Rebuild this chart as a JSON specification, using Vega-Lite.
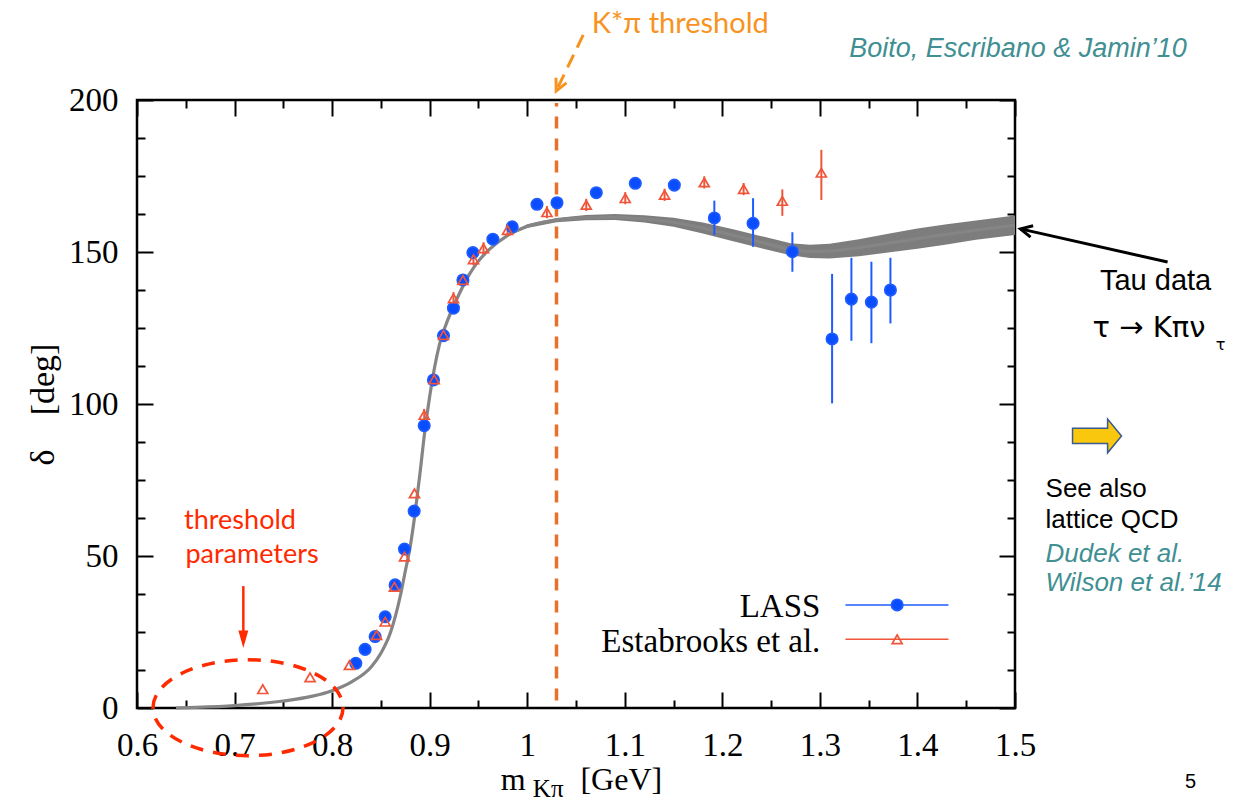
{
  "$schema": "https://vega.github.io/schema/vega-lite/v6.json",
  "width": 878,
  "height": 608,
  "autosize": {"type": "none"},
  "padding": {"left": 137, "top": 100, "right": 224, "bottom": 93},
  "background": "white",
  "config": {
    "view": {"stroke": "black", "strokeWidth": 2.5},
    "font": "Liberation Serif"
  },
  "datasets": {
    "theory": [
      {"m": 0.64, "delta": 0, "lo": 0, "hi": 0},
      {"m": 0.66, "delta": 0.2, "lo": 0.2, "hi": 0.2},
      {"m": 0.70, "delta": 0.8, "lo": 0.8, "hi": 0.8},
      {"m": 0.75, "delta": 2.3, "lo": 2.3, "hi": 2.3},
      {"m": 0.78, "delta": 3.9, "lo": 3.9, "hi": 3.9},
      {"m": 0.80, "delta": 5.7, "lo": 5.7, "hi": 5.7},
      {"m": 0.82, "delta": 8.6, "lo": 8.6, "hi": 8.6},
      {"m": 0.84, "delta": 13.5, "lo": 13.5, "hi": 13.5},
      {"m": 0.85, "delta": 18, "lo": 18, "hi": 18},
      {"m": 0.86, "delta": 25, "lo": 25, "hi": 25},
      {"m": 0.87, "delta": 37, "lo": 37, "hi": 37},
      {"m": 0.875, "delta": 45, "lo": 45, "hi": 45},
      {"m": 0.88, "delta": 53, "lo": 53, "hi": 53},
      {"m": 0.885, "delta": 64, "lo": 64, "hi": 64},
      {"m": 0.89, "delta": 77, "lo": 77, "hi": 77},
      {"m": 0.895, "delta": 91, "lo": 91, "hi": 91},
      {"m": 0.90, "delta": 102.5, "lo": 102.5, "hi": 102.5},
      {"m": 0.905, "delta": 112, "lo": 112, "hi": 112},
      {"m": 0.91, "delta": 119.5, "lo": 119.5, "hi": 119.5},
      {"m": 0.92, "delta": 128.8, "lo": 128.8, "hi": 128.8},
      {"m": 0.93, "delta": 136, "lo": 136, "hi": 136},
      {"m": 0.94, "delta": 142.3, "lo": 142.3, "hi": 142.3},
      {"m": 0.95, "delta": 147, "lo": 147, "hi": 147},
      {"m": 0.96, "delta": 150.5, "lo": 150.5, "hi": 150.5},
      {"m": 0.98, "delta": 155.5, "lo": 155.2, "hi": 155.8},
      {"m": 1.00, "delta": 158.5, "lo": 157.9, "hi": 159.1},
      {"m": 1.03, "delta": 160.5, "lo": 159.8, "hi": 161.2},
      {"m": 1.06, "delta": 161.3, "lo": 160.45, "hi": 162.15},
      {"m": 1.09, "delta": 161.5, "lo": 160.5, "hi": 162.5},
      {"m": 1.12, "delta": 160.9, "lo": 159.7, "hi": 162.1},
      {"m": 1.15, "delta": 159.8, "lo": 158.3, "hi": 161.3},
      {"m": 1.18, "delta": 157.9, "lo": 156.1, "hi": 159.7},
      {"m": 1.21, "delta": 155.6, "lo": 153.6, "hi": 157.6},
      {"m": 1.24, "delta": 153.2, "lo": 151.2, "hi": 155.2},
      {"m": 1.27, "delta": 150.9, "lo": 148.9, "hi": 152.9},
      {"m": 1.29, "delta": 150.2, "lo": 148.0, "hi": 152.4},
      {"m": 1.31, "delta": 150.3, "lo": 147.9, "hi": 152.7},
      {"m": 1.34, "delta": 151.4, "lo": 148.6, "hi": 154.2},
      {"m": 1.37, "delta": 152.9, "lo": 149.8, "hi": 156.0},
      {"m": 1.40, "delta": 154.4, "lo": 151.1, "hi": 157.7},
      {"m": 1.43, "delta": 155.8, "lo": 152.5, "hi": 159.1},
      {"m": 1.46, "delta": 157.2, "lo": 154.0, "hi": 160.4},
      {"m": 1.50, "delta": 158.8, "lo": 155.6, "hi": 162.0}
    ],
    "measurements": [
      {"series": "LASS", "m": 0.8243, "delta": 14.7},
      {"series": "LASS", "m": 0.8338, "delta": 19.3},
      {"series": "LASS", "m": 0.8441, "delta": 23.5},
      {"series": "LASS", "m": 0.8544, "delta": 30.0},
      {"series": "LASS", "m": 0.8646, "delta": 40.5},
      {"series": "LASS", "m": 0.8742, "delta": 52.3},
      {"series": "LASS", "m": 0.8841, "delta": 64.8},
      {"series": "LASS", "m": 0.8944, "delta": 92.9},
      {"series": "LASS", "m": 0.9039, "delta": 107.9},
      {"series": "LASS", "m": 0.9142, "delta": 122.5},
      {"series": "LASS", "m": 0.9244, "delta": 131.5},
      {"series": "LASS", "m": 0.9341, "delta": 140.8},
      {"series": "LASS", "m": 0.9443, "delta": 149.8},
      {"series": "LASS", "m": 0.9648, "delta": 154.2},
      {"series": "LASS", "m": 0.9846, "delta": 158.3},
      {"series": "LASS", "m": 1.0100, "delta": 165.7},
      {"series": "LASS", "m": 1.0305, "delta": 166.2},
      {"series": "LASS", "m": 1.0708, "delta": 169.5},
      {"series": "LASS", "m": 1.1108, "delta": 172.6},
      {"series": "LASS", "m": 1.1508, "delta": 172.0},
      {"series": "LASS", "m": 1.1918, "delta": 161.2, "lo": 155.6, "hi": 166.9},
      {"series": "LASS", "m": 1.2315, "delta": 159.4, "lo": 151.7, "hi": 167.7},
      {"series": "LASS", "m": 1.2718, "delta": 150.1, "lo": 143.5, "hi": 156.5},
      {"series": "LASS", "m": 1.3125, "delta": 121.4, "lo": 100.2, "hi": 142.8},
      {"series": "LASS", "m": 1.3323, "delta": 134.5, "lo": 120.8, "hi": 148.1},
      {"series": "LASS", "m": 1.3528, "delta": 133.5, "lo": 120.0, "hi": 146.8},
      {"series": "LASS", "m": 1.3723, "delta": 137.5, "lo": 126.5, "hi": 148.1},
      {"series": "Estabrooks et al.", "m": 0.7289, "delta": 6.2},
      {"series": "Estabrooks et al.", "m": 0.7774, "delta": 10.1},
      {"series": "Estabrooks et al.", "m": 0.8177, "delta": 14.1},
      {"series": "Estabrooks et al.", "m": 0.8456, "delta": 24.0},
      {"series": "Estabrooks et al.", "m": 0.8544, "delta": 28.4},
      {"series": "Estabrooks et al.", "m": 0.8639, "delta": 39.9},
      {"series": "Estabrooks et al.", "m": 0.8742, "delta": 49.8},
      {"series": "Estabrooks et al.", "m": 0.8844, "delta": 70.6},
      {"series": "Estabrooks et al.", "m": 0.8944, "delta": 96.4, "lo": 94.4, "hi": 98.4},
      {"series": "Estabrooks et al.", "m": 0.9046, "delta": 108.1, "lo": 106.1, "hi": 110.1},
      {"series": "Estabrooks et al.", "m": 0.9142, "delta": 122.7, "lo": 120.7, "hi": 124.7},
      {"series": "Estabrooks et al.", "m": 0.9244, "delta": 134.8, "lo": 132.8, "hi": 136.8},
      {"series": "Estabrooks et al.", "m": 0.9341, "delta": 140.8, "lo": 138.8, "hi": 142.8},
      {"series": "Estabrooks et al.", "m": 0.9449, "delta": 147.6, "lo": 145.6, "hi": 149.6},
      {"series": "Estabrooks et al.", "m": 0.9552, "delta": 151.2, "lo": 149.2, "hi": 153.2},
      {"series": "Estabrooks et al.", "m": 0.9798, "delta": 157.2, "lo": 155.2, "hi": 159.2},
      {"series": "Estabrooks et al.", "m": 1.0202, "delta": 163.1, "lo": 161.1, "hi": 165.1},
      {"series": "Estabrooks et al.", "m": 1.0605, "delta": 165.5, "lo": 163.5, "hi": 167.5},
      {"series": "Estabrooks et al.", "m": 1.1005, "delta": 167.7, "lo": 165.7, "hi": 169.7},
      {"series": "Estabrooks et al.", "m": 1.1408, "delta": 168.8, "lo": 166.8, "hi": 170.8},
      {"series": "Estabrooks et al.", "m": 1.1815, "delta": 172.9, "lo": 170.9, "hi": 174.9},
      {"series": "Estabrooks et al.", "m": 1.2218, "delta": 170.7, "lo": 168.7, "hi": 172.7},
      {"series": "Estabrooks et al.", "m": 1.2615, "delta": 166.8, "lo": 161.9, "hi": 170.6},
      {"series": "Estabrooks et al.", "m": 1.3015, "delta": 176.1, "lo": 167.1, "hi": 183.6}
    ],
    "legend": [
      {"series": "LASS", "m": 1.3262, "m2": 1.4318, "sym": 1.3792, "delta": 33.9, "tdelta": 29.9, "tm": 1.3005},
      {"series": "Estabrooks et al.", "m": 1.3262, "m2": 1.4318, "sym": 1.3792, "delta": 22.6, "tdelta": 18.4, "tm": 1.3005}
    ]
  },
  "layer": [
    {
      "encoding": {
        "x": {"field": "m", "type": "quantitative", "scale": {"domain": [0.6, 1.5], "nice": false, "zero": false},
          "axis": {"orient": "bottom", "title": null, "domain": false, "grid": false,
            "values": [0.6, 0.65, 0.7, 0.75, 0.8, 0.85, 0.9, 0.95, 1, 1.05, 1.1, 1.15, 1.2, 1.25, 1.3, 1.35, 1.4, 1.45, 1.5],
            "tickSize": {"condition": {"test": "abs(datum.value*10 - round(datum.value*10)) < 1e-6", "value": -16}, "value": -8},
            "tickWidth": 2, "tickColor": "black",
            "labelExpr": "abs(datum.value*10 - round(datum.value*10)) < 1e-6 ? (abs(datum.value - 1) < 1e-6 ? '1' : format(datum.value, '.1f')) : ''",
            "labelFont": "Liberation Serif", "labelFontSize": 33, "labelColor": "black", "labelPadding": 37,
            "labelFlush": false, "labelOverlap": false, "labelBound": false}},
        "y": {"field": "delta", "type": "quantitative", "scale": {"domain": [0, 200], "nice": false, "zero": false},
          "axis": {"orient": "left", "title": "δ\u2003[deg]", "titleFont": "Liberation Serif", "titleFontSize": 34, "titleFontWeight": "normal", "titleColor": "black", "titlePadding": 8,
            "domain": false, "grid": false,
            "values": [0, 12.5, 25, 37.5, 50, 62.5, 75, 87.5, 100, 112.5, 125, 137.5, 150, 162.5, 175, 187.5, 200],
            "tickSize": {"condition": {"test": "datum.value % 50 === 0", "value": -16}, "value": -8},
            "tickWidth": 2, "tickColor": "black",
            "labelExpr": "datum.value % 50 === 0 ? format(datum.value, 'd') : ''",
            "labelFont": "Liberation Serif", "labelFontSize": 33, "labelColor": "black", "labelPadding": 35,
            "labelFlush": false, "labelOverlap": false, "labelBound": false}}
      },
      "layer": [
        {
          "data": {"name": "theory"},
          "mark": {"type": "area", "color": "#7d7d7d", "opacity": 1},
          "encoding": {
            "y": {"field": "lo", "type": "quantitative", "scale": {"domain": [0, 200], "nice": false, "zero": false}},
            "y2": {"field": "hi"}
          }
        },
        {
          "data": {"name": "theory"},
          "mark": {"type": "line", "color": "#858585", "strokeWidth": 3.2, "interpolate": "monotone"}
        },
        {
          "data": {"values": [{"m": 1.03, "delta": 2.5, "delta2": 199}]},
          "mark": {"type": "rule", "color": "#e8702a", "strokeWidth": 3.5, "strokeDash": [12, 10]},
          "encoding": {"y2": {"field": "delta2"}}
        },
        {
          "data": {"name": "measurements"},
          "transform": [{"filter": "isValid(datum.lo)"}],
          "mark": {"type": "rule", "strokeWidth": 2},
          "encoding": {
            "y": {"field": "lo", "type": "quantitative", "scale": {"domain": [0, 200], "nice": false, "zero": false}},
            "y2": {"field": "hi"},
            "stroke": {"field": "series", "type": "nominal", "scale": {"domain": ["LASS", "Estabrooks et al."], "range": ["#1f5cff", "#f0553a"]}, "legend": null}
          }
        },
        {
          "data": {"name": "measurements"},
          "mark": {"type": "point", "filled": false, "strokeWidth": 1.7, "opacity": 1},
          "encoding": {
            "shape": {"field": "series", "type": "nominal", "scale": {"domain": ["LASS", "Estabrooks et al."], "range": ["circle", "triangle-up"]}, "legend": null},
            "stroke": {"field": "series", "type": "nominal", "scale": {"domain": ["LASS", "Estabrooks et al."], "range": ["#1f5cff", "#f0553a"]}, "legend": null},
            "fill": {"field": "series", "type": "nominal", "scale": {"domain": ["LASS", "Estabrooks et al."], "range": ["#0a4dff", "transparent"]}, "legend": null},
            "size": {"field": "series", "type": "nominal", "scale": {"domain": ["LASS", "Estabrooks et al."], "range": [130, 100]}, "legend": null}
          }
        },
        {
          "data": {"name": "legend"},
          "mark": {"type": "rule", "strokeWidth": 1.6},
          "encoding": {
            "x2": {"field": "m2"},
            "stroke": {"field": "series", "type": "nominal", "scale": {"domain": ["LASS", "Estabrooks et al."], "range": ["#1f5cff", "#f0553a"]}, "legend": null}
          }
        },
        {
          "data": {"name": "legend"},
          "mark": {"type": "point", "filled": false, "strokeWidth": 1.7, "opacity": 1},
          "encoding": {
            "x": {"field": "sym", "type": "quantitative", "scale": {"domain": [0.6, 1.5], "nice": false, "zero": false}},
            "shape": {"field": "series", "type": "nominal", "scale": {"domain": ["LASS", "Estabrooks et al."], "range": ["circle", "triangle-up"]}, "legend": null},
            "stroke": {"field": "series", "type": "nominal", "scale": {"domain": ["LASS", "Estabrooks et al."], "range": ["#1f5cff", "#f0553a"]}, "legend": null},
            "fill": {"field": "series", "type": "nominal", "scale": {"domain": ["LASS", "Estabrooks et al."], "range": ["#0a4dff", "transparent"]}, "legend": null},
            "size": {"field": "series", "type": "nominal", "scale": {"domain": ["LASS", "Estabrooks et al."], "range": [130, 90]}, "legend": null}
          }
        },
        {
          "data": {"name": "legend"},
          "mark": {"type": "text", "align": "right", "baseline": "alphabetic", "font": "Liberation Serif", "fontSize": 33, "color": "black"},
          "encoding": {
            "x": {"field": "tm", "type": "quantitative", "scale": {"domain": [0.6, 1.5], "nice": false, "zero": false}},
            "y": {"field": "tdelta", "type": "quantitative", "scale": {"domain": [0, 200], "nice": false, "zero": false}},
            "text": {"field": "series"}
          }
        },
        {
          "data": {"values": [{"m": 0.9856, "delta": -27.0, "label": "m"}, {"m": 1.0964, "delta": -27.0, "label": "[GeV]"}]},
          "mark": {"type": "text", "align": "center", "baseline": "alphabetic", "font": "Liberation Serif", "fontSize": 32, "color": "black"},
          "encoding": {"text": {"field": "label"}}
        },
        {
          "data": {"values": [{"m": 1.0215, "delta": -29.2, "label": "Kπ"}]},
          "mark": {"type": "text", "align": "center", "baseline": "alphabetic", "font": "Liberation Serif", "fontSize": 25, "color": "black"},
          "encoding": {"text": {"field": "label"}}
        },
        {
          "data": {"values": [{"m": 1.1569, "delta": 222.0, "label": "K*π threshold"}]},
          "mark": {"type": "text", "align": "center", "baseline": "alphabetic", "font": "Lato", "fontSize": 29, "color": "#f7931e"},
          "encoding": {"text": {"field": "label"}}
        },
        {
          "data": {"values": [{"m": 1.0574, "delta": 221.4, "m2": 1.0297, "delta2": 203.0}]},
          "mark": {"type": "rule", "color": "#f7931e", "strokeWidth": 3, "strokeDash": [14, 8]},
          "encoding": {"x2": {"field": "m2"}, "y2": {"field": "delta2"}}
        },
        {
          "data": {"values": [{"m": 1.0297, "delta": 203.0}]},
          "mark": {"type": "point", "shape": "M-0.55,1.1L0,0L0.55,1.1", "size": 450, "angle": 205.7, "filled": false, "stroke": "#f7931e", "strokeWidth": 3, "opacity": 1}
        },
        {
          "data": {"values": [{"m": 1.5031, "delta": 214.1, "label": "Boito, Escribano & Jamin’10"}]},
          "mark": {"type": "text", "align": "center", "baseline": "alphabetic", "font": "Liberation Sans", "fontStyle": "italic", "fontSize": 27, "color": "#3f8f93"},
          "encoding": {"text": {"field": "label"}}
        },
        {
          "data": {"values": [{"m": 1.6564, "delta": 146.7, "m2": 1.5056, "delta2": 157.6}]},
          "mark": {"type": "rule", "color": "black", "strokeWidth": 3},
          "encoding": {"x2": {"field": "m2"}, "y2": {"field": "delta2"}}
        },
        {
          "data": {"values": [{"m": 1.5056, "delta": 157.6}]},
          "mark": {"type": "point", "shape": "M-0.55,1.1L0,0L0.55,1.1", "size": 450, "angle": 282.7, "filled": false, "stroke": "black", "strokeWidth": 3, "opacity": 1}
        },
        {
          "data": {"values": [{"m": 1.6441, "delta": 137.5, "label": "Tau data"}]},
          "mark": {"type": "text", "align": "center", "baseline": "alphabetic", "font": "Liberation Sans", "fontSize": 29, "color": "black"},
          "encoding": {"text": {"field": "label"}}
        },
        {
          "data": {"values": [{"m": 1.5795, "delta": 122.0, "label": "τ → Kπν"}]},
          "mark": {"type": "text", "align": "left", "baseline": "alphabetic", "font": "DejaVu Sans", "fontSize": 29, "color": "black"},
          "encoding": {"text": {"field": "label"}}
        },
        {
          "data": {"values": [{"m": 1.7057, "delta": 117.6, "label": "τ"}]},
          "mark": {"type": "text", "align": "left", "baseline": "alphabetic", "font": "DejaVu Sans", "fontSize": 16, "color": "black"},
          "encoding": {"text": {"field": "label"}}
        },
        {
          "data": {"values": [{"m": 1.5841, "delta": 89.5}]},
          "mark": {"type": "point", "shape": "M-1,-0.31L0.43,-0.31L0.43,-0.69L1,0L0.43,0.69L0.43,0.31L-1,0.31Z", "size": 2401, "filled": true, "fill": "#f9c80e", "stroke": "#3a5a90", "strokeWidth": 1.5, "opacity": 1}
        },
        {
          "data": {"values": [{"m": 1.5313, "delta": 69.4, "label": "See also"}, {"m": 1.5313, "delta": 59.2, "label": "lattice QCD"}]},
          "mark": {"type": "text", "align": "left", "baseline": "alphabetic", "font": "Liberation Sans", "fontSize": 26, "color": "black"},
          "encoding": {"text": {"field": "label"}}
        },
        {
          "data": {"values": [{"m": 1.5313, "delta": 48.0, "label": "Dudek et al."}, {"m": 1.5313, "delta": 38.6, "label": "Wilson et al.’14"}]},
          "mark": {"type": "text", "align": "left", "baseline": "alphabetic", "font": "Liberation Sans", "fontStyle": "italic", "fontSize": 26, "color": "#3f8f93"},
          "encoding": {"text": {"field": "label"}}
        },
        {
          "data": {"values": [{"m": 1.68, "delta": -26.3, "label": "5"}]},
          "mark": {"type": "text", "align": "center", "baseline": "alphabetic", "font": "Liberation Sans", "fontSize": 20, "color": "black"},
          "encoding": {"text": {"field": "label"}}
        },
        {
          "data": {"values": [{"m": 0.7056, "delta": 58.9, "label": "threshold"}, {"m": 0.7179, "delta": 47.7, "label": "parameters"}]},
          "mark": {"type": "text", "align": "center", "baseline": "alphabetic", "font": "Lato", "fontSize": 27, "color": "#ff2a00"},
          "encoding": {"text": {"field": "label"}}
        },
        {
          "data": {"values": [{"m": 0.709, "delta": 40.1, "delta2": 23}]},
          "mark": {"type": "rule", "color": "#ff2a00", "strokeWidth": 2.5},
          "encoding": {"y2": {"field": "delta2"}}
        },
        {
          "data": {"values": [{"m": 0.709, "delta": 19.7}]},
          "mark": {"type": "point", "shape": "M0,0L-0.45,-1.6L0.45,-1.6Z", "size": 484, "filled": true, "fill": "#ff2a00", "strokeWidth": 0, "opacity": 1}
        }
      ]
    },
    {
      "data": {"values": [{"m": 0.7138, "delta": 0.1}]},
      "mark": {"type": "point", "shape": "M-1,0C-1,-0.279,-0.552,-0.505,0,-0.505C0.552,-0.505,1,-0.279,1,0C1,0.279,0.552,0.505,0,0.505C-0.552,0.505,-1,0.279,-1,0Z", "size": 36100, "filled": false, "stroke": "#ff2a00", "strokeWidth": 3.5, "strokeDash": [13, 10], "opacity": 1},
      "encoding": {
        "x": {"field": "m", "type": "quantitative", "scale": {"domain": [0.6, 1.5], "nice": false, "zero": false},
          "axis": {"orient": "top", "title": null, "domain": false, "grid": false, "labels": false,
            "values": [0.6, 0.65, 0.7, 0.75, 0.8, 0.85, 0.9, 0.95, 1, 1.05, 1.1, 1.15, 1.2, 1.25, 1.3, 1.35, 1.4, 1.45, 1.5],
            "tickSize": {"condition": {"test": "abs(datum.value*10 - round(datum.value*10)) < 1e-6", "value": -16}, "value": -8},
            "tickWidth": 2, "tickColor": "black"}},
        "y": {"field": "delta", "type": "quantitative", "scale": {"domain": [0, 200], "nice": false, "zero": false},
          "axis": {"orient": "right", "title": null, "domain": false, "grid": false, "labels": false,
            "values": [0, 12.5, 25, 37.5, 50, 62.5, 75, 87.5, 100, 112.5, 125, 137.5, 150, 162.5, 175, 187.5, 200],
            "tickSize": {"condition": {"test": "datum.value % 50 === 0", "value": -16}, "value": -8},
            "tickWidth": 2, "tickColor": "black"}}
      }
    }
  ],
  "resolve": {"axis": {"x": "independent", "y": "independent"}}
}
